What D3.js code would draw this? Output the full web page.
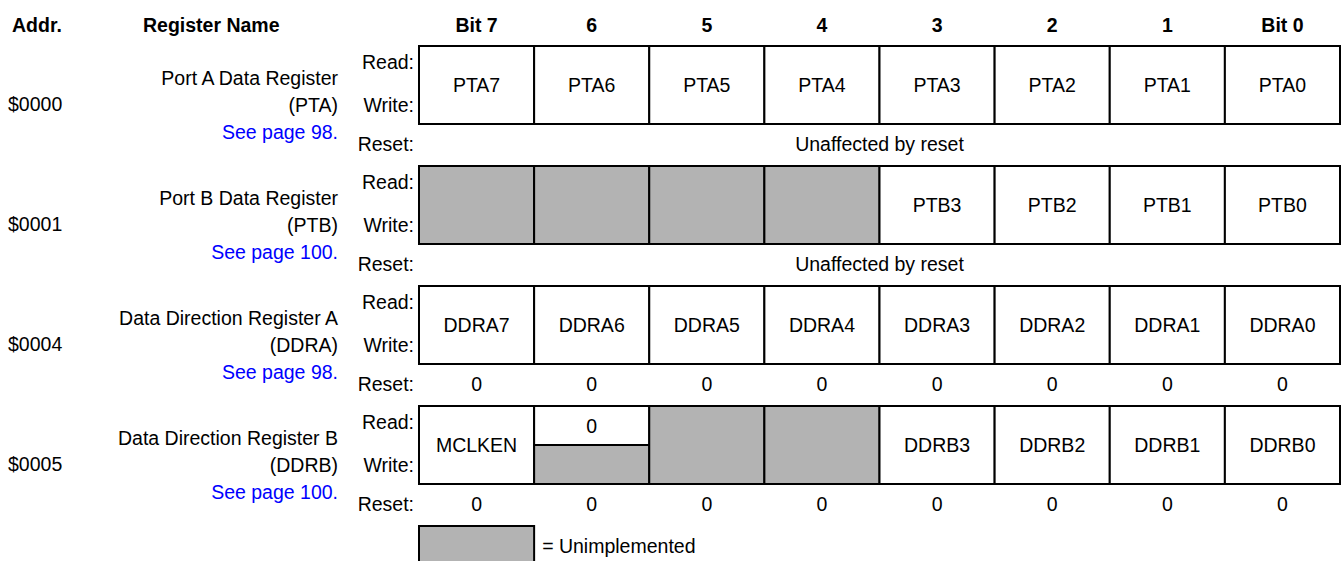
<!DOCTYPE html>
<html>
<head>
<meta charset="utf-8">
<script src="https://cdn.jsdelivr.net/npm/d3@7/dist/d3.min.js"></script>
<style>
  html, body { margin: 0; padding: 0; background: #fff; }
  svg { display: block; }
  text { font-family: "Liberation Sans", Arial, Helvetica, sans-serif; font-size: 19.5px; fill: #000; }
</style>
</head>
<body>
<svg id="chart" width="1342" height="561"></svg>
<script>
// ---- data ----
const bitHeaders = ["Bit 7", "6", "5", "4", "3", "2", "1", "Bit 0"];
const addresses = ["$0000", "$0001", "$0004", "$0005"];
const registerNames = ["Port A Data Register", "Port B Data Register", "Data Direction Register A", "Data Direction Register B"];
const registerAbbr = ["(PTA)", "(PTB)", "(DDRA)", "(DDRB)"];
const pageRefs = ["See page 98.", "See page 100.", "See page 98.", "See page 100."];
// null = unimplemented; {read, write} = split cell (write null = unimplemented)
const bitsPTA = ["PTA7", "PTA6", "PTA5", "PTA4", "PTA3", "PTA2", "PTA1", "PTA0"];
const bitsPTB = [null, null, null, null, "PTB3", "PTB2", "PTB1", "PTB0"];
const bitsDDRA = ["DDRA7", "DDRA6", "DDRA5", "DDRA4", "DDRA3", "DDRA2", "DDRA1", "DDRA0"];
const bitsDDRB = ["MCLKEN", {read: "0", write: null}, null, null, "DDRB3", "DDRB2", "DDRB1", "DDRB0"];
const resetPTA = "Unaffected by reset";
const resetPTB = "Unaffected by reset";
const resetDDRA = ["0", "0", "0", "0", "0", "0", "0", "0"];
const resetDDRB = ["0", "0", "0", "0", "0", "0", "0", "0"];
const rowLabels = ["Read:", "Write:", "Reset:"];
const legendText = "= Unimplemented";
const headerAddr = "Addr.";
const headerName = "Register Name";

const registers = [
  {bits: bitsPTA, reset: resetPTA},
  {bits: bitsPTB, reset: resetPTB},
  {bits: bitsDDRA, reset: resetDDRA},
  {bits: bitsDDRB, reset: resetDDRB}
];

// ---- layout ----
const svg = d3.select("#chart");
const GRAY = "#b3b3b3";
const x = d3.scaleBand().domain(d3.range(8)).range([419, 1340]).padding(0);
const rowTop = d3.scaleLinear().domain([0, 4]).range([46, 526]);
const cellH = 78;
const nameRight = 338;
const labelRight = 414;

// header
svg.append("text").attr("x", 12).attr("y", 25).attr("dominant-baseline", "central")
  .attr("font-weight", "bold").text(headerAddr);
svg.append("text").attr("x", 143).attr("y", 25).attr("dominant-baseline", "central")
  .attr("font-weight", "bold").text(headerName);
svg.selectAll("text.bith").data(bitHeaders).join("text")
  .attr("class", "bith")
  .attr("x", (d, i) => x(i) + x.bandwidth() / 2)
  .attr("y", 25).attr("text-anchor", "middle").attr("dominant-baseline", "central")
  .attr("font-weight", "bold").text(d => d);

registers.forEach((reg, r) => {
  const top = rowTop(r);
  const g = svg.append("g");

  // left labels
  g.append("text").attr("x", 8).attr("y", top + 58).attr("dominant-baseline", "central").text(addresses[r]);
  g.append("text").attr("x", nameRight).attr("y", top + 32).attr("text-anchor", "end")
    .attr("dominant-baseline", "central").text(registerNames[r]);
  g.append("text").attr("x", nameRight).attr("y", top + 59).attr("text-anchor", "end")
    .attr("dominant-baseline", "central").text(registerAbbr[r]);
  g.append("text").attr("x", nameRight).attr("y", top + 86).attr("text-anchor", "end")
    .attr("dominant-baseline", "central").style("fill", "#0000ff").text(pageRefs[r]);

  g.append("text").attr("x", labelRight).attr("y", top + 16).attr("text-anchor", "end")
    .attr("dominant-baseline", "central").text(rowLabels[0]);
  g.append("text").attr("x", labelRight).attr("y", top + 59).attr("text-anchor", "end")
    .attr("dominant-baseline", "central").text(rowLabels[1]);
  g.append("text").attr("x", labelRight).attr("y", top + 98).attr("text-anchor", "end")
    .attr("dominant-baseline", "central").text(rowLabels[2]);

  // cells
  reg.bits.forEach((b, i) => {
    const cx = x(i), w = x.bandwidth();
    if (b !== null && typeof b === "object") {
      const half = cellH / 2;
      g.append("rect").attr("x", cx).attr("y", top).attr("width", w).attr("height", half)
        .attr("fill", b.read === null ? GRAY : "#fff").attr("stroke", "#000").attr("stroke-width", 2);
      g.append("rect").attr("x", cx).attr("y", top + half).attr("width", w).attr("height", half)
        .attr("fill", b.write === null ? GRAY : "#fff").attr("stroke", "#000").attr("stroke-width", 2);
      if (b.read !== null) g.append("text").attr("x", cx + w / 2).attr("y", top + half / 2)
        .attr("text-anchor", "middle").attr("dominant-baseline", "central").text(b.read);
      if (b.write !== null) g.append("text").attr("x", cx + w / 2).attr("y", top + half * 1.5)
        .attr("text-anchor", "middle").attr("dominant-baseline", "central").text(b.write);
    } else {
      g.append("rect").attr("x", cx).attr("y", top).attr("width", w).attr("height", cellH)
        .attr("fill", b === null ? GRAY : "#fff").attr("stroke", "#000").attr("stroke-width", 2);
      if (b !== null) g.append("text").attr("x", cx + w / 2).attr("y", top + cellH / 2)
        .attr("text-anchor", "middle").attr("dominant-baseline", "central").text(b);
    }
  });

  // reset row
  if (typeof reg.reset === "string") {
    g.append("text").attr("x", (x.range()[0] + x.range()[1]) / 2).attr("y", top + 98)
      .attr("text-anchor", "middle").attr("dominant-baseline", "central").text(reg.reset);
  } else {
    reg.reset.forEach((v, i) => {
      g.append("text").attr("x", x(i) + x.bandwidth() / 2).attr("y", top + 98)
        .attr("text-anchor", "middle").attr("dominant-baseline", "central").text(v);
    });
  }
});

// legend
const ly = rowTop(4);
svg.append("rect").attr("x", x(0)).attr("y", ly).attr("width", x.bandwidth()).attr("height", cellH)
  .attr("fill", GRAY).attr("stroke", "#000").attr("stroke-width", 2);
svg.append("text").attr("x", x(1) + 8).attr("y", ly + 20).attr("dominant-baseline", "central").text(legendText);
</script>
</body>
</html>
